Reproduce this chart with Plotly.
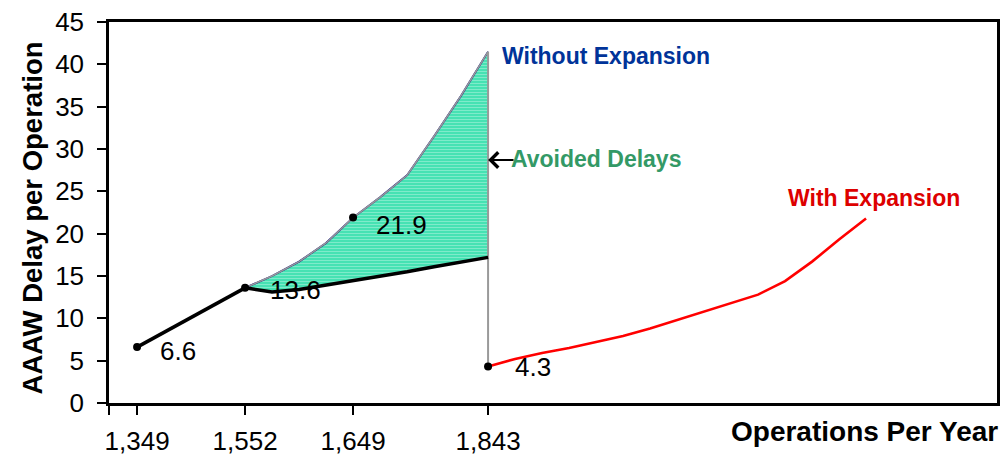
import plotly.graph_objects as go

# Category positions along the operations axis (evenly spaced steps)
tick_pos = [0, 4, 8, 13]
tick_labels = ["1,349", "1,552", "1,649", "1,843"]

# Baseline growth up to the 1,552 level
base_x = [0, 4]
base_y = [6.6, 13.6]

# Delay without the expansion
without_x = [4, 5, 6, 7, 8, 9, 10, 11, 12, 13]
without_y = [13.6, 15.0, 16.7, 18.9, 21.9, 24.3, 26.9, 31.5, 36.3, 41.5]

# Delay trend that forms the lower edge of the avoided-delay band
lower_x = [4, 5, 6, 7, 8, 9, 10, 11, 12, 13]
lower_y = [13.6, 13.1, 13.4, 13.9, 14.4, 15.0, 15.5, 16.1, 16.6, 17.2]

# Delay with the expansion
with_x = [13, 14, 15, 16, 17, 18, 19, 20, 21, 22, 23, 24, 25, 26, 27]
with_y = [4.3, 5.2, 5.9, 6.5, 7.2, 7.9, 8.8, 9.8, 10.8, 11.8, 12.8, 14.4, 16.7, 19.3, 21.8]

# Labelled points
label_x = [0, 4, 8, 13]
label_y = [6.6, 13.6, 21.9, 4.3]
label_dx = [21, 23, 21, 25]
label_dy = [-4, -2, -7, 0]

x_range = [-1.04, 31.85]
y_range = [0, 45]

TEXT_FONT = "Liberation Sans, Arial, sans-serif"

fig = go.Figure()

# Avoided-delay band: upper curve forward, lower curve back
band_x = without_x + lower_x[::-1]
band_y = without_y + lower_y[::-1]
fig.add_trace(go.Scatter(
    x=band_x, y=band_y, mode="lines", fill="toself",
    line=dict(width=0, color="rgba(0,0,0,0)"),
    fillcolor="#3FE0B0",
    fillpattern=dict(shape="-", bgcolor="#3FE0B0", fgcolor="#BDF6E4",
                     size=3, solidity=0.4),
    hoverinfo="skip", showlegend=False,
))

# Without expansion curve (navy under a grey edge)
fig.add_trace(go.Scatter(
    x=without_x, y=without_y, mode="lines",
    line=dict(color="#000080", width=1.8), showlegend=False,
))
fig.add_trace(go.Scatter(
    x=without_x, y=without_y, mode="lines",
    line=dict(color="#9A9A9A", width=1.6), showlegend=False,
))

# Vertical drop at the 1,843 level
fig.add_trace(go.Scatter(
    x=[without_x[-1], with_x[0]], y=[without_y[-1], with_y[0]], mode="lines",
    line=dict(color="#9A9A9A", width=2), showlegend=False,
))

# Black baseline and lower trend
fig.add_trace(go.Scatter(
    x=base_x, y=base_y, mode="lines",
    line=dict(color="black", width=3.5), showlegend=False,
))
fig.add_trace(go.Scatter(
    x=lower_x, y=lower_y, mode="lines",
    line=dict(color="black", width=3.5), showlegend=False,
))

# With expansion curve
fig.add_trace(go.Scatter(
    x=with_x, y=with_y, mode="lines",
    line=dict(color="#FF0000", width=2.6), showlegend=False,
))

# Point markers
fig.add_trace(go.Scatter(
    x=label_x, y=label_y, mode="markers",
    marker=dict(color="black", size=8), showlegend=False,
))

annotations = []
for x, y, dx, dy in zip(label_x, label_y, label_dx, label_dy):
    annotations.append(dict(
        x=x, y=y, xref="x", yref="y", text=f"{y:.1f}", showarrow=False,
        xanchor="left", yanchor="middle", xshift=dx, yshift=dy,
        font=dict(family=TEXT_FONT, size=26, color="black"),
    ))

annotations += [
    dict(x=without_x[-1], y=without_y[-1], xref="x", yref="y",
         text="<b>Without Expansion</b>", showarrow=False,
         xanchor="left", yanchor="middle", xshift=12, yshift=-4,
         font=dict(family=TEXT_FONT, size=23, color="#003399")),
    dict(x=13, y=28.7, xref="x", yref="y", text="", showarrow=True,
         ax=27, ay=0, axref="pixel", ayref="pixel",
         arrowhead=4, arrowsize=1.5, arrowwidth=2, arrowcolor="black"),
    dict(x=13, y=28.9, xref="x", yref="y",
         text="<b>Avoided Delays</b>", showarrow=False,
         xanchor="left", yanchor="middle", xshift=21, yshift=-1,
         font=dict(family=TEXT_FONT, size=23, color="#339966")),
    dict(x=with_x[-1], y=with_y[-1], xref="x", yref="y",
         text="<b>With Expansion</b>", showarrow=False,
         xanchor="center", yanchor="middle", xshift=8, yshift=20,
         font=dict(family=TEXT_FONT, size=23, color="#DD0000")),
    dict(x=1, y=-0.076, xref="paper", yref="paper",
         text="<b>Operations Per Year</b>", showarrow=False,
         xanchor="right", yanchor="middle", xshift=3, yshift=0,
         font=dict(family=TEXT_FONT, size=28, color="black")),
    dict(x=-0.086, y=0.486, xref="paper", yref="paper",
         text="<b>AAAW Delay per Operation</b>", showarrow=False,
         textangle=-90, xanchor="center", yanchor="middle",
         font=dict(family=TEXT_FONT, size=27.5, color="black")),
]

fig.update_layout(
    width=1002, height=459,
    margin=dict(l=109, r=5, t=22, b=56),
    paper_bgcolor="white", plot_bgcolor="white",
    showlegend=False,
    annotations=annotations,
    xaxis=dict(
        range=x_range, tickmode="array", automargin=False,
        tickvals=[x_range[0]] + tick_pos, ticktext=[""] + tick_labels,
        ticks="outside", ticklen=9, tickwidth=1.5, tickcolor="black",
        showline=True, linecolor="black", linewidth=2.5, mirror=True,
        showgrid=False, zeroline=False, ticklabelstandoff=4,
        tickfont=dict(family=TEXT_FONT, size=26, color="black"),
    ),
    yaxis=dict(
        range=y_range, tickmode="array", automargin=False,
        tickvals=list(range(0, 46, 5)),
        ticks="outside", ticklen=9, tickwidth=1.5, tickcolor="black",
        showline=True, linecolor="black", linewidth=2.5, mirror=True,
        showgrid=False, zeroline=False, ticklabelstandoff=8,
        tickfont=dict(family=TEXT_FONT, size=26, color="black"),
    ),
)

fig.write_html("out.html")
